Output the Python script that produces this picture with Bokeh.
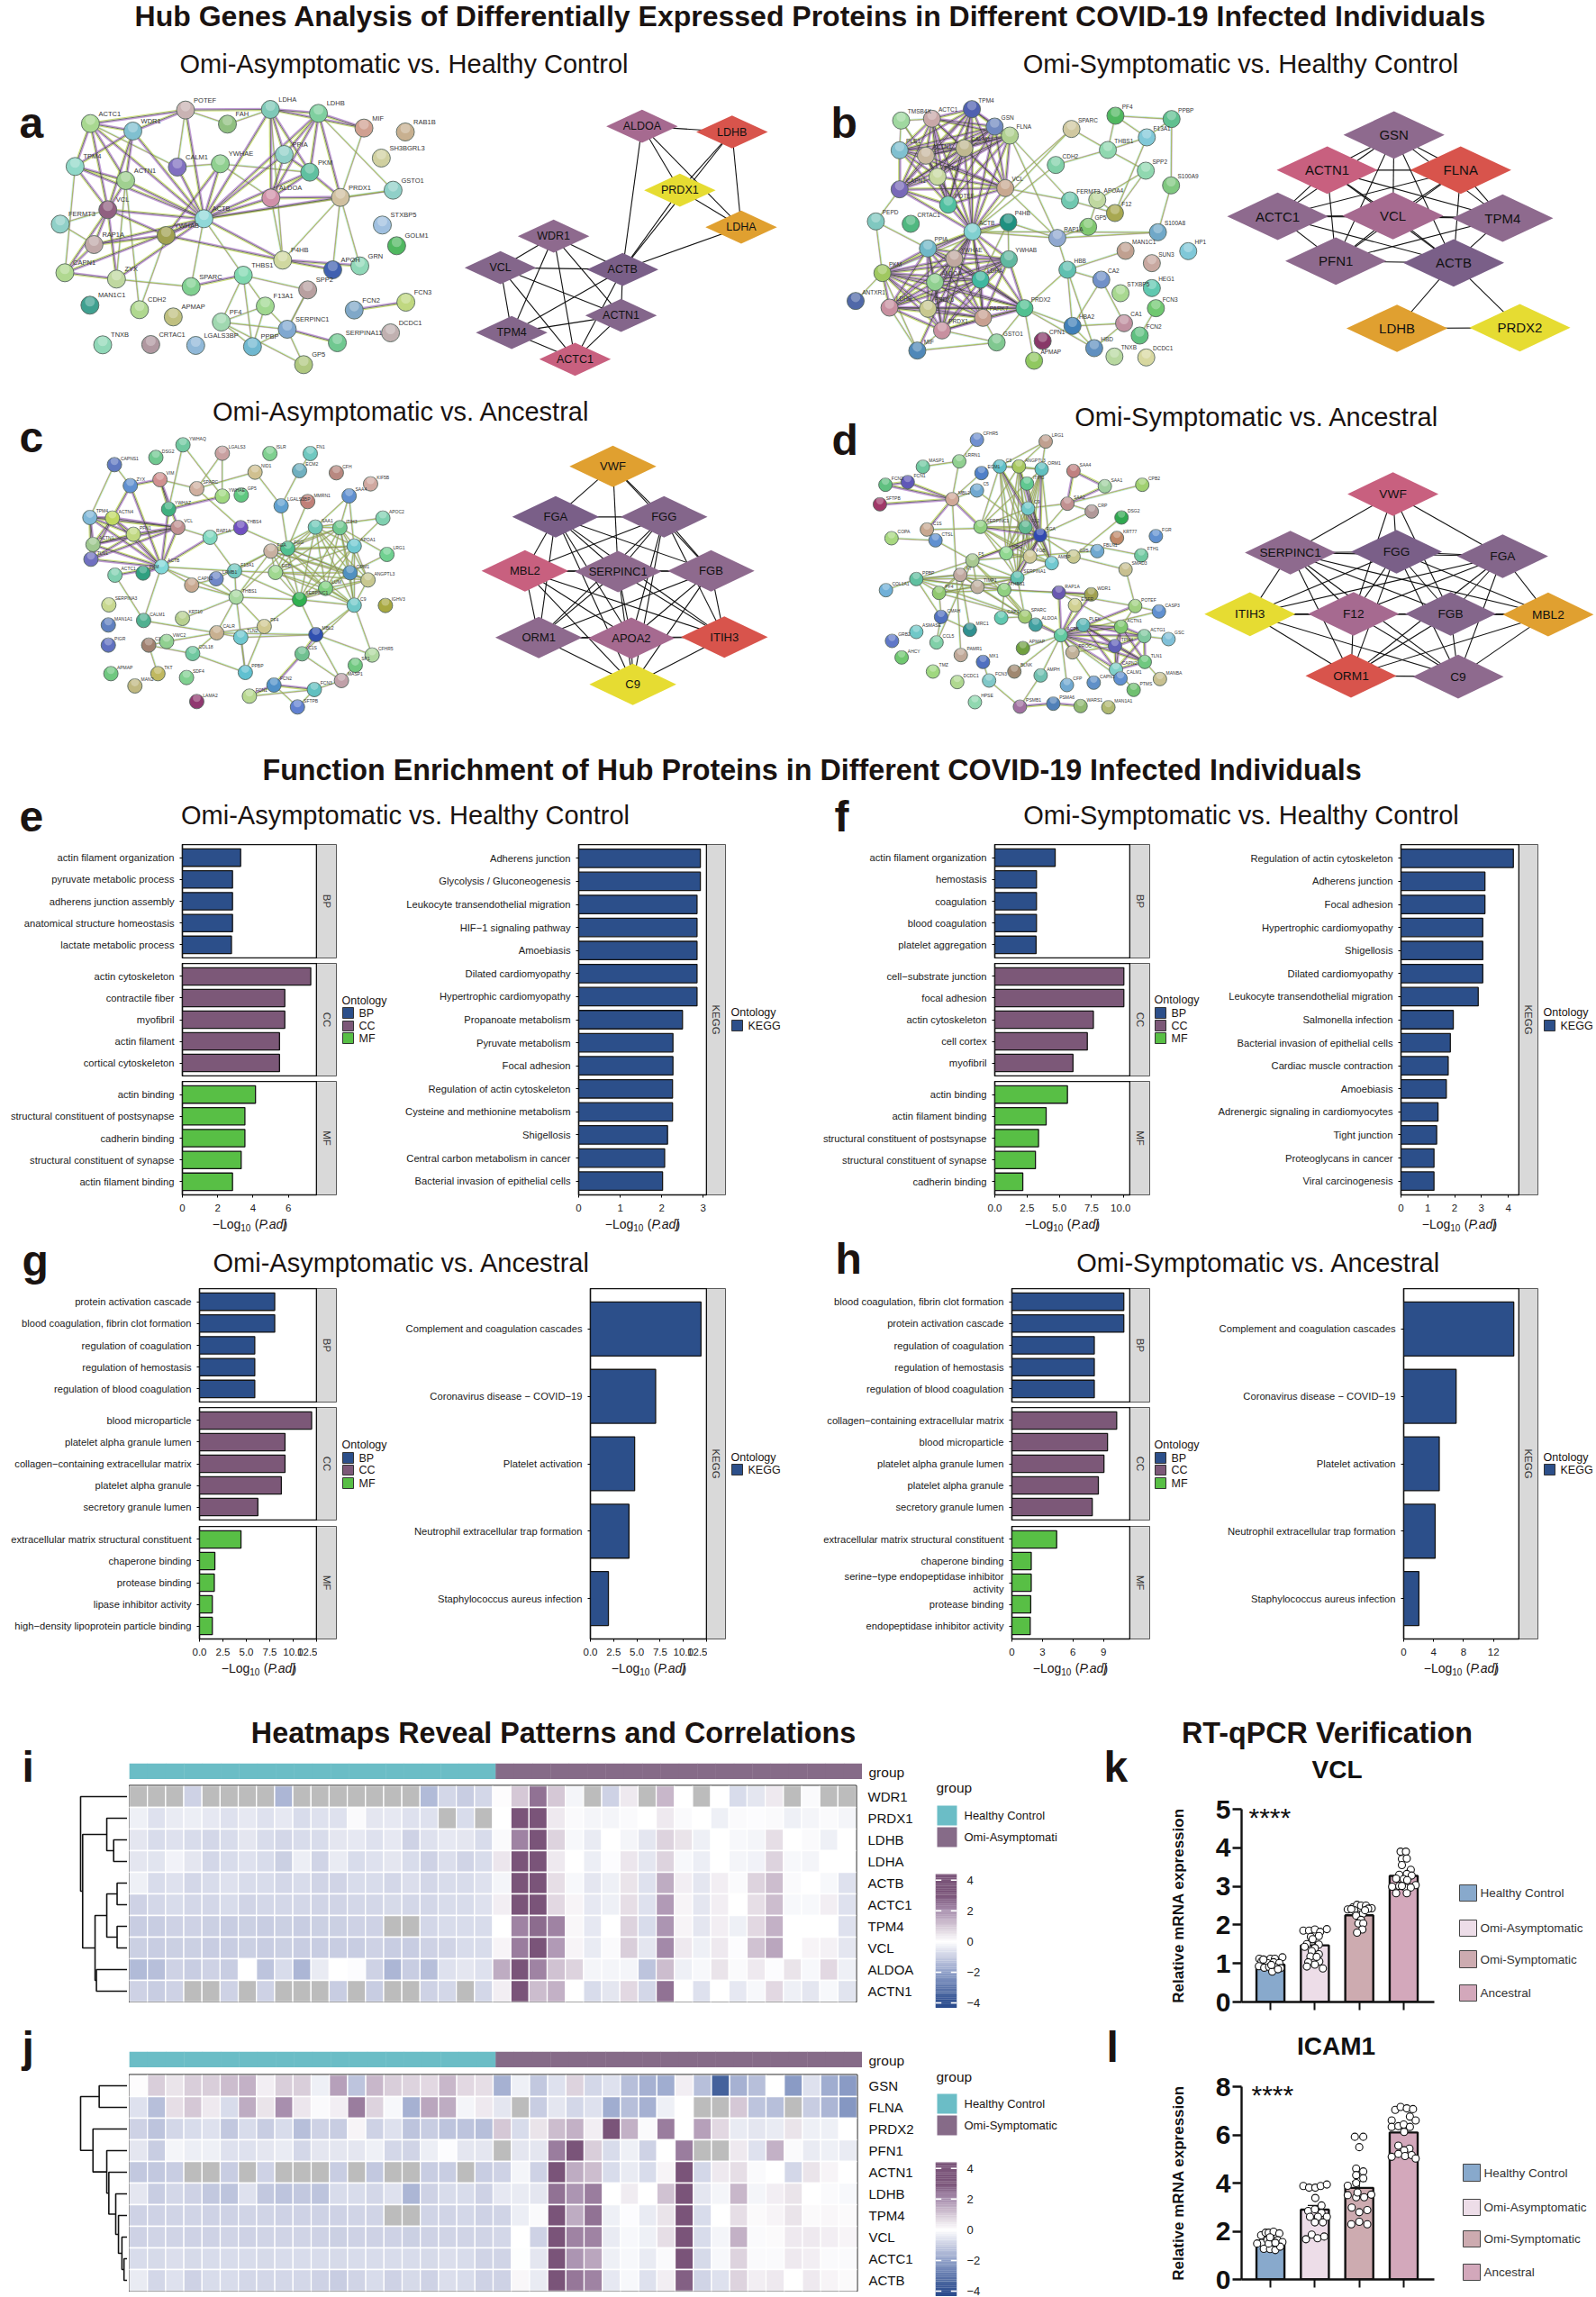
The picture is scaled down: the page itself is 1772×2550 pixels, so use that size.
from itertools import combinations
import math
import numpy as np
from bokeh.plotting import figure
from bokeh.layouts import column
from bokeh.models import Range1d, LinearAxis, FixedTicker, NumeralTickFormatter, Column
from bokeh.core.properties import value
from bokeh.embed import file_html
from bokeh.resources import INLINE

FONT = "Liberation Sans"
N = float("nan")

# ---------------------------------------------------------------- enrichment data
e_bp_terms = ["actin filament organization", "pyruvate metabolic process", "adherens junction assembly", "anatomical structure homeostasis", "lactate metabolic process"]
e_bp_vals = [3.3, 2.84, 2.84, 2.84, 2.78]
e_cc_terms = ["actin cytoskeleton", "contractile fiber", "myofibril", "actin filament", "cortical cytoskeleton"]
e_cc_vals = [7.27, 5.8, 5.8, 5.5, 5.5]
e_mf_terms = ["actin binding", "structural constituent of postsynapse", "cadherin binding", "structural constituent of synapse", "actin filament binding"]
e_mf_vals = [4.14, 3.54, 3.54, 3.33, 2.84]
e_kegg_terms = ["Adherens junction", "Glycolysis / Gluconeogenesis", "Leukocyte transendothelial migration", "HIF−1 signaling pathway", "Amoebiasis", "Dilated cardiomyopathy", "Hypertrophic cardiomyopathy", "Propanoate metabolism", "Pyruvate metabolism", "Focal adhesion", "Regulation of actin cytoskeleton", "Cysteine and methionine metabolism", "Shigellosis", "Central carbon metabolism in cancer", "Bacterial invasion of epithelial cells"]
e_kegg_vals = [2.93, 2.93, 2.85, 2.85, 2.85, 2.85, 2.85, 2.5, 2.27, 2.27, 2.26, 2.26, 2.14, 2.07, 2.02]

f_bp_terms = ["actin filament organization", "hemostasis", "coagulation", "blood coagulation", "platelet aggregation"]
f_bp_vals = [4.68, 3.23, 3.23, 3.23, 3.2]
f_cc_terms = ["cell−substrate junction", "focal adhesion", "actin cytoskeleton", "cell cortex", "myofibril"]
f_cc_vals = [10.0, 10.0, 7.64, 7.17, 6.06]
f_mf_terms = ["actin binding", "actin filament binding", "structural constituent of postsynapse", "structural constituent of synapse", "cadherin binding"]
f_mf_vals = [5.63, 3.98, 3.39, 3.15, 2.17]
f_kegg_terms = ["Regulation of actin cytoskeleton", "Adherens junction", "Focal adhesion", "Hypertrophic cardiomyopathy", "Shigellosis", "Dilated cardiomyopathy", "Leukocyte transendothelial migration", "Salmonella infection", "Bacterial invasion of epithelial cells", "Cardiac muscle contraction", "Amoebiasis", "Adrenergic signaling in cardiomyocytes", "Tight junction", "Proteoglycans in cancer", "Viral carcinogenesis"]
f_kegg_vals = [4.19, 3.13, 3.13, 3.05, 3.05, 3.05, 2.88, 1.95, 1.84, 1.76, 1.69, 1.38, 1.33, 1.23, 1.23]

g_bp_terms = ["protein activation cascade", "blood coagulation, fibrin clot formation", "regulation of coagulation", "regulation of hemostasis", "regulation of blood coagulation"]
g_bp_vals = [8.03, 8.03, 5.9, 5.9, 5.9]
g_cc_terms = ["blood microparticle", "platelet alpha granule lumen", "collagen−containing extracellular matrix", "platelet alpha granule", "secretory granule lumen"]
g_cc_vals = [11.97, 9.13, 9.13, 8.74, 6.23]
g_mf_terms = ["extracellular matrix structural constituent", "chaperone binding", "protease binding", "lipase inhibitor activity", "high−density lipoprotein particle binding"]
g_mf_vals = [4.43, 1.64, 1.58, 1.37, 1.37]
g_kegg_terms = ["Complement and coagulation cascades", "Coronavirus disease − COVID−19", "Platelet activation", "Neutrophil extracellular trap formation", "Staphylococcus aureus infection"]
g_kegg_vals = [11.9, 7.02, 4.76, 4.15, 1.94]

h_bp_terms = ["blood coagulation, fibrin clot formation", "protein activation cascade", "regulation of coagulation", "regulation of hemostasis", "regulation of blood coagulation"]
h_bp_vals = [11.0, 11.0, 8.1, 8.1, 8.1]
h_cc_terms = ["collagen−containing extracellular matrix", "blood microparticle", "platelet alpha granule lumen", "platelet alpha granule", "secretory granule lumen"]
h_cc_vals = [10.3, 9.4, 9.05, 8.5, 7.9]
h_mf_terms = ["extracellular matrix structural constituent", "chaperone binding", "serine−type endopeptidase inhibitor\nactivity", "protease binding", "endopeptidase inhibitor activity"]
h_mf_vals = [4.4, 1.9, 1.9, 1.85, 1.8]
h_kegg_terms = g_kegg_terms
h_kegg_vals = [14.7, 7.0, 4.75, 4.2, 2.03]

# ---------------------------------------------------------------- heatmap data
i_rows = ["WDR1", "PRDX1", "LDHB", "LDHA", "ACTB", "ACTC1", "TPM4", "VCL", "ALDOA", "ACTN1"]
i_values = [
 [N,N,N,-.9,N,N,N,N,-1.5,N,N,N,N,N,N,N,-1.4,-.8,-1,-.8,.05,1,2.5,1,-.2,N,-.9,.4,N,1.3,0,N,0,-.7,-.5,.4,N,-.1,N,N],
 [-.3,-.6,-.4,-.35,-.45,-.6,-.45,-.6,-.45,-.7,-.6,-.6,-.1,-.5,-.45,-.6,-.6,N,-.7,N,0,3,3,.4,-.1,-.2,-.2,-.1,0,.4,-.1,0,-.3,-.1,-.05,-.1,-.3,-.2,-.1,-.2],
 [-.5,-.7,-.6,-.7,-.8,-.7,-.5,-.7,-.8,-.7,-.7,-.5,-.45,-.6,-.45,-.9,-.6,-.45,-.5,-.7,-.1,2.2,3,.8,-.15,-.4,0,-.2,-.5,.8,.5,-.3,0,-.15,-.2,.6,0,-.1,-.3,0],
 [-.5,-.55,-.25,-.5,-.8,-.7,-.6,-.7,-.95,-.35,-.85,-.4,-.7,-.6,-.5,-.7,-.9,-.65,-.85,-.7,.45,3,3,.4,0,-.35,-.05,.45,-.5,.8,-.15,-.35,0,-.2,-.25,.8,-.15,-.2,0,0],
 [-.3,-.7,-.6,-.8,-.7,-.6,-.7,-.7,-.8,-.7,-.85,-.85,-.7,-.7,-.8,-.65,-.8,-.7,-.7,-.6,-.2,3,3,.6,-.15,-.5,-.3,.5,-.6,1.5,.3,-.5,.3,-.1,.8,1.2,-.1,0,-.15,-.6],
 [-.9,-.8,-.7,-.8,-.8,-.7,-.85,-.8,-.8,-.8,-.85,-.85,-.8,-.8,-.75,-.8,-.8,-.7,-.7,-.6,.3,3,3,.7,.2,-.45,-.3,.6,-.6,1.8,.2,-.5,.3,0,.6,1.2,-.15,-.15,.3,-.6],
 [-1,-1,-.9,-.9,-.95,-1,-.95,-1,-.95,-1,-.95,-.95,-.9,-.9,N,N,-.8,-.7,-.7,-.7,0,2.2,2.6,2.2,.15,-.45,0,.8,-.7,1.9,.2,-.5,.3,-.3,.7,1.4,0,0,0,-.6],
 [-.95,-1,-.95,-.95,-1,-1,-.95,-1,-.95,-1,-1,-1,-1,-.9,-1,-1,-.9,-.85,-.7,-.7,.2,2.3,3,1.8,.2,-.4,-.1,.9,-.5,2.1,.4,-.3,.4,-.05,1.1,1.6,0,.2,.25,-.5],
 [-1.4,-1.3,-.9,-1,-.9,-1,0,-1.2,-.7,-1.5,-.4,0,-.05,-.9,-1.5,-1,-1.3,-.6,-.5,-.6,1.5,3,2.2,1.1,.8,-.2,-.2,-.2,-1.2,1.2,-.3,-.15,.5,-.1,.4,-.05,.5,-.15,.7,-.3],
 [-.9,-1,-.9,N,N,-.9,N,-.9,N,N,N,-1,N,-1,N,N,-.9,-.8,N,-.8,.3,3,1.2,1.4,0,-.7,-.5,.7,-.8,2.5,0,-.6,0,-.45,-.15,.7,-.3,-.5,-.15,-.55],
]
j_rows = ["GSN", "FLNA", "PRDX2", "PFN1", "ACTN1", "LDHB", "TPM4", "VCL", "ACTC1", "ACTB"]
j_values = [
 [.05,.9,.5,.9,.9,1.2,1.4,.3,.9,.9,-.3,1.7,-1.2,1.3,.9,.8,.7,1.3,.7,.6,-1.6,-.3,-1.1,-.6,.8,-.8,-.6,-1.3,-1.6,-1.7,.3,-1.3,-3.5,-1.6,-1.3,0,-2.1,-.6,-1.7,-2.1],
 [-.6,-1.3,.6,1,.4,-.7,1.5,.5,2,.45,-.1,.3,2.3,.8,-.15,-1.6,1.6,1.5,-.2,.4,-.5,N,-1,-.5,-.8,-.6,-1.7,-1.3,-1.6,-.3,0,N,N,1,-1.2,-1.3,N,-1,-1.5,-2.2],
 [-.9,-1.2,-.8,-.7,-.6,-1.1,-.7,-1,-.7,-1.3,-.9,-1,.2,-.9,-.6,-1.2,-1,-1.2,-1.2,-1.3,1,-.7,.5,1.2,1.4,.3,3,1.4,-.1,2.3,0,1.7,.7,-.4,-.5,-.4,.5,-.3,-.3,0],
 [-.5,-1,-.2,-.35,-.3,-.6,-.6,-.5,-.4,-.8,-.5,-.5,-.5,-.3,-.8,-.85,-.35,-.05,-.5,-.5,N,-.5,-.5,2.3,3,.9,-.7,-.3,-.9,0,2.3,N,N,.4,-.6,1.4,-.1,-.4,-.3,-.4],
 [-1.1,-1.1,-1,N,N,-1,N,-.9,N,N,N,-1,N,-1.1,N,N,-1,-1,N,-1,-.9,-.2,-.9,3,1.5,1.2,-.7,-.4,-.7,.2,3,-.8,.4,.6,-.1,0,-.8,.5,.2,0],
 [-.5,-1,-.8,-.9,-1.1,-1.2,-.6,-1.1,-1.2,-1.1,-1.2,-.7,-.7,-.8,-.6,-1.5,-.9,-.7,-.7,-.9,-.45,-.4,-.5,2.5,1.9,2.3,0,.35,0,1.1,3,-.5,-.2,1.3,-.2,.3,.5,0,-.1,-.15],
 [-.9,-.9,-.85,-.85,-.9,-.9,-.85,-.85,-.9,-.9,-.9,-.9,-.85,-.85,N,N,-.85,-.85,-.8,-.9,-.85,-.35,-.1,3,1.5,2.5,-.3,-.05,-.4,.5,3,-.7,0,.6,.1,.2,.5,.1,.15,.1],
 [-.9,-.85,-.85,-.9,-.9,-.85,-.9,-.85,-.85,-.85,-.9,-.95,-.9,-.9,-.9,-.95,-.9,-.85,-.85,-.85,-.8,0,-.9,3,2.2,2.2,-.4,-.15,-.3,.6,3,-.7,-.2,1.4,-.1,.1,.4,.4,.3,.2],
 [-.7,-.75,-.65,-.75,-.7,-.7,-.7,-.75,-.7,-.7,-.7,-.75,-.7,-.7,-.7,-.7,-.75,-.65,-.7,-.85,-.85,-.03,-.5,3,1.9,1.6,-.3,-.15,-.4,-.1,3,-.75,-.15,.8,-.1,-.1,.4,.3,-.1,-.1],
 [-.4,-.8,-.6,-.9,-.7,-.7,-.8,-.8,-.8,-.8,-.9,-1,-.85,-.7,-.9,-.75,-.9,-.65,-.7,-.9,-.9,.15,-.4,3,2.4,2.2,-.45,-.15,-.6,.3,2.8,-.85,-.6,.8,.3,.4,0,.4,.2,.1],
]
heat_groups_i = ["Healthy Control"] * 20 + ["Omi-Asymptomatic"] * 20
heat_groups_j = ["Healthy Control"] * 20 + ["Omi-Symptomatic"] * 20
tree_i = (68, 0, (65, (30, 1, (20, 2, 3)), (47, (30, (15, 4, 5), (15, 6, 7)), (45, 8, 9))))
tree_j = (68, (41, 0, 1), (50, 2, (30, 3, (27, 4, (17, 5, (13, 6, (8, 7, (5, 8, 9))))))))

# ---------------------------------------------------------------- qPCR data
q_groups = ["Healthy Control", "Omi-Asymptomatic", "Omi-Symptomatic", "Ancestral"]
q_colors = ["#88a9cc", "#eddde8", "#cdabb0", "#d3a8bb"]
vcl_means = [0.97, 1.47, 2.25, 3.27]
vcl_sem = [0.03, 0.07, 0.05, 0.07]
vcl_off = [
 [-.25,-.11,0,.1,.27,-.2,-.07,.07,.2,-.26,-.14,-.03,.11,.23,.04,.17,-.16,.02],
 [-.26,-.13,0,.12,.27,-.09,.09,-.18,-.05,.09,-.23,0,-.07,.09,-.1,-.15,.1,-.18,0,.18,.04],
 [-.26,-.14,-.05,.04,.15,.28,.2,-.11,0,.08,-.07,.04,-.02,.09,.07,-.05,-.18,.13],
 [-.07,.05,-.04,.07,-.04,.16,.07,-.1,.18,0,-.17,.08,.27,-.26,-.1,.03,.16,-.17,.07,-.04],
]
vcl_pts = [
 [1.12,1.08,1.12,1.12,1.16,1.05,1.01,1.03,1.01,.93,.89,.91,.9,.88,.79,.85,1.1,.96],
 [1.85,1.85,1.88,1.82,1.89,1.69,1.71,1.5,1.63,1.49,1.43,1.4,1.32,1.24,1.18,1.03,1.05,.92,.97,.87,1.17],
 [2.4,2.46,2.52,2.5,2.5,2.43,2.42,2.38,2.26,2.29,2.24,2.13,2.04,2.04,1.88,1.8,2.41,2.38],
 [3.9,3.9,3.71,3.72,3.55,3.43,3.32,3.3,3.28,3.19,3.2,3.16,3.03,2.99,3.01,2.97,2.97,2.82,2.82,3.01],
]
icam_means = [1.5, 2.9, 3.8, 6.1]
icam_sem = [0.07, 0.17, 0.27, 0.16]
icam_off = [
 [-.21,-.11,-.04,.07,.2,-.2,-.3,-.07,.04,.16,.27,-.15,-.01,.11,.22,-.04,.11,-.01],
 [-.26,-.13,.01,.13,.27,.01,.15,-.15,0,.15,-.11,.07,.27,0,.18,-.2,-.07,.06,.21],
 [-.1,.09,0,-.07,.09,-.07,.09,-.26,-.07,-.26,-.07,.11,.27,-.17,0,.18,-.18,0,.18,-.04],
 [-.19,-.07,.07,.21,.14,-.27,.27,-.27,-.12,0,.14,.01,-.12,.13,.01,-.12,-.27,.03,.18,.27],
]
icam_pts = [
 [1.83,1.94,1.94,1.98,1.91,1.52,1.49,1.64,1.64,1.63,1.55,1.27,1.26,1.22,1.36,1.49,1.52,1.75],
 [3.88,3.81,3.81,3.88,3.94,3.38,3.07,2.84,2.91,2.76,2.6,2.6,2.6,2.37,2.37,1.67,1.86,1.71,1.78],
 [5.92,5.92,5.49,4.6,4.48,4.33,4.2,3.89,4.0,3.5,3.41,3.41,3.52,2.98,2.79,2.88,2.29,2.39,2.29,3.61],
 [7.04,7.16,7.1,7.07,6.76,6.6,6.6,6.33,6.36,6.43,6.33,6.12,5.55,5.43,5.36,5.21,5.09,5.12,5.16,5.02],
]

# ---------------------------------------------------------------- PPI networks
net_a_nodes = [("POTEF",362,365,"#c9b3b3"),("LDHA",528,363,"#7fc9b8"),("LDHB",622,376,"#7fcf9f"),("FAH",444,412,"#90c080"),("MIF",711,425,"#d0a090"),("RAB1B",792,438,"#c8b090"),("ACTC1",176,410,"#a8d890"),("WDR1",259,435,"#80c0d0"),("SH3BGRL3",745,525,"#d0d0a0"),("PPIA",555,513,"#90d0c8"),("YWHAE",430,544,"#90d090"),("CALM1",346,555,"#8070c0"),("PKM",605,572,"#60c0a0"),("TPM4",146,553,"#90d8c8"),("ACTN1",245,600,"#a0d090"),("GSTO1",768,632,"#90d0c8"),("ALDOA",529,658,"#d090a8"),("PRDX1",665,656,"#d0c0a0"),("VCL",210,697,"#906080"),("ACTB",398,727,"#90d8d8"),("FERMT3",117,745,"#90d0c8"),("STXBP5",747,748,"#a0c0e0"),("YWHAB",324,783,"#a0a050"),("RAP1A",183,813,"#c0a8a8"),("GOLM1",775,817,"#50b860"),("GRN",703,884,"#90d8b8"),("APOH",650,897,"#4060b0"),("P4HB",552,865,"#d0d8a0"),("CAPN1",126,907,"#b0d890"),("ZYX",227,928,"#c0d8a0"),("THBS1",475,915,"#80d8b0"),("SPARC",373,953,"#80d090"),("SPP2",601,964,"#b8a0a0"),("MAN1C1",175,1015,"#40a090"),("CDH2",272,1030,"#b0d890"),("F13A1",518,1018,"#a0d890"),("APMAP",338,1054,"#c0c080"),("FCN2",692,1031,"#80a8c8"),("FCN3",793,1005,"#c0d880"),("PF4",432,1071,"#a0d8b0"),("SERPINC1",561,1095,"#80a8d0"),("DCDC1",763,1107,"#c0b0b0"),("SERPINA11",659,1140,"#70c890"),("TNXB",200,1147,"#90d8b8"),("CRTAC1",294,1146,"#b098a0"),("LGALS3BP",382,1149,"#90b8d8"),("PPBP",493,1153,"#70b8d0"),("GP5",593,1213,"#b0c880")]
net_b_nodes = [("TMSB4X",196,130,"#a0d8a0"),("ACTC1",257,124,"#c8a8a8"),("TPM4",336,92,"#5060b0"),("GSN",381,150,"#7088c0"),("FLNA",411,180,"#b0d090"),("PLS1",193,229,"#80c0d0"),("ACTN1",245,247,"#c8b8a0"),("CALM1",321,222,"#c0b890"),("PFN1",268,317,"#c8d8a0"),("SPARC",533,158,"#d0c8a0"),("THBS1",605,228,"#90d8b0"),("CDH2",502,278,"#80d0a8"),("F13A1",682,186,"#80c8d8"),("PF4",620,114,"#50b860"),("PPBP",731,125,"#60c090"),("SPP2",680,297,"#90d8b0"),("S100A9",730,346,"#80c880"),("CAPN1",193,359,"#7868b8"),("VCL",402,355,"#c8a890"),("POTEF",289,410,"#50c0a0"),("FERMT3",530,396,"#70c8b0"),("APOA4",584,394,"#c0d8a0"),("F12",619,438,"#a8a850"),("PEPD",146,466,"#80c8c0"),("CRTAC1",215,474,"#50b880"),("ACTB",337,500,"#80d0d0"),("P4HB",408,469,"#209080"),("GP5",566,484,"#80c870"),("S100A8",704,502,"#70a8c8"),("RAP1A",505,521,"#90a8d0"),("PPIA",249,556,"#70b8c8"),("MAN1C1",640,564,"#c0a090"),("YWHAE",301,590,"#c0a8a0"),("YWHAB",409,592,"#60b8a0"),("HP1",764,565,"#80c8d8"),("SUN3",692,605,"#c8a8a0"),("HBB",525,627,"#60c0b0"),("CA2",592,660,"#7090c8"),("PKM",159,638,"#a0c860"),("ALDOA",263,668,"#90d090"),("LDHA",353,660,"#40b8a0"),("STXBP5",630,705,"#a8d890"),("HEG1",692,688,"#60c8b0"),("ANTXR1",106,731,"#5068a8"),("LDHB",173,753,"#c890a0"),("PRDX6",249,757,"#c8c890"),("PARK7",358,787,"#c8a090"),("PRDX2",440,755,"#50c090"),("FCN3",700,755,"#70c870"),("HBA2",535,814,"#4080b8"),("CA1",637,805,"#c090a0"),("PRDX1",277,829,"#c890a0"),("FCN2",668,846,"#60c080"),("GSTO1",385,869,"#80c890"),("CPN1",476,864,"#883868"),("HBD",578,888,"#6090c0"),("MIF",228,896,"#5088b8"),("APMAP",459,930,"#90c860"),("TNXB",618,916,"#b8d8a0"),("DCDC1",681,919,"#d8d8a0")]
net_c_nodes = [("YWHAQ",357,190,"#70c8a0"),("LGALS3",434,218,"#c8a0a0"),("DSG2",304,232,"#70c890"),("ISLR",527,219,"#80d090"),("FN1",606,219,"#70c8c0"),("CAPNS1",223,256,"#6078c0"),("ECM2",585,276,"#70b0c0"),("NID1",498,281,"#d0c090"),("CFH",657,283,"#b88880"),("KIF5B",724,320,"#d0a8a0"),("ZYX",254,326,"#6090d0"),("VIM",312,306,"#d09090"),("SPARC",384,336,"#d0b0a0"),("YWHAE",434,361,"#a0d880"),("GP5",471,357,"#60c880"),("LGALS3BP",549,393,"#60a0d0"),("MMRN1",601,379,"#c08078"),("SAA4",682,360,"#6090d0"),("YWHAZ",329,404,"#40b080"),("TPM4",175,432,"#80b8d8"),("ACTN4",219,434,"#c0d860"),("APOC2",748,434,"#80d0b0"),("VCL",347,465,"#c09090"),("THBS4",470,466,"#7050c0"),("SAA1",616,464,"#70c8b8"),("ITIH3",664,466,"#70c890"),("PFN1",260,488,"#c0d880"),("RAP1A",410,498,"#80d8c0"),("ACTN1",181,522,"#a0c890"),("APOA1",692,527,"#70c8d0"),("FGA",529,544,"#c8b0a0"),("FGG",562,535,"#50c090"),("LRG1",756,555,"#70d090"),("TLN1",177,571,"#7070c0"),("ACTC1",224,624,"#80d0b0"),("ACTB",315,596,"#80d8d8"),("PKM",279,617,"#30a080"),("F13A1",458,610,"#70c8c0"),("FGB",538,615,"#a0d890"),("ORM1",684,616,"#5090c0"),("ANGPTL3",719,640,"#c8c890"),("LAMB1",422,636,"#7088c8"),("CAPN2",374,657,"#c8a890"),("LUM",636,668,"#80d080"),("THBS1",461,697,"#a8d8a0"),("SERPINC1",585,705,"#30b050"),("C9",692,724,"#70c8c8"),("SERPINA3",212,723,"#c8d890"),("IGHV3",753,725,"#a8a840"),("MAN1A1",211,790,"#6080c0"),("CALM1",280,775,"#50b090"),("KRT10",356,768,"#b8d090"),("PF4",516,795,"#d0c890"),("CALR",423,816,"#c8b090"),("MBL2",617,822,"#3050b0"),("TLN2",470,831,"#70c8d0"),("PIGR",211,857,"#6070c0"),("C3",290,857,"#a08070"),("VWC2",325,845,"#90d090"),("COL18",376,885,"#70c8a0"),("C1S",590,886,"#70c090"),("CFHR5",727,890,"#b0d8a0"),("SP1",694,924,"#70c880"),("APMAP",216,952,"#70c880"),("TKT",308,952,"#c0b860"),("PPBP",479,948,"#60c0d0"),("SDF4",364,965,"#80d090"),("MAN2",263,993,"#c0b880"),("MASP1",667,975,"#c0a0a8"),("FCN2",535,990,"#5090c8"),("FCN3",614,1005,"#60c0c0"),("FCN1",487,1027,"#b8d890"),("LAMA2",384,1045,"#903870"),("SFTPB",581,1063,"#6080d0")]
net_d_nodes = [("CFHR5",346,173,"#7090d0"),("LRG1",482,179,"#c0a090"),("LRRN1",311,245,"#90d090"),("MASP1",239,263,"#70c8a0"),("ECM1",355,284,"#5080c8"),("C3",391,262,"#60c0c8"),("ANGPTL3",429,262,"#a8c860"),("ORM1",474,271,"#60c0c0"),("SAA4",537,277,"#c08080"),("FCN2",165,323,"#60c080"),("FCN1",209,314,"#6058b8"),("C5",346,342,"#70a8d0"),("ITIH3",445,319,"#60c890"),("SAA1",599,328,"#a0d0a0"),("CPB2",673,323,"#a0d070"),("SFTPB",154,388,"#a03868"),("MBL2",297,371,"#d0a898"),("SAA2",525,386,"#c09090"),("CRP",573,412,"#b09898"),("C9",447,402,"#70c8c8"),("DSG2",632,432,"#30a850"),("C1S",247,472,"#c8a890"),("SERPINC1",353,463,"#90d080"),("F12",442,464,"#60b890"),("FGA",471,491,"#3048b0"),("KRT77",623,500,"#c08868"),("FGR",700,494,"#6090d0"),("COPA",177,501,"#a8d880"),("CTSL",264,508,"#6090d0"),("FBLN1",584,544,"#70a8d0"),("HRG",404,551,"#90d890"),("FGB",451,562,"#d0c898"),("FTH1",671,558,"#70c8a0"),("GP5",537,562,"#c8c890"),("F5",337,575,"#a8c890"),("AMBP",494,584,"#70c8d0"),("SMAD3",640,605,"#c8c090"),("PPBP",226,637,"#60c0a0"),("F7",313,623,"#c0a8a0"),("SERPINA1",426,633,"#60c0b0"),("COL1A1",166,674,"#70b0d8"),("PF4",271,683,"#90c870"),("TIMP1",347,663,"#c0b0a0"),("THBS1",400,673,"#90d080"),("RAP1A",508,682,"#6858b0"),("WDR1",572,688,"#a0a050"),("POTEF",659,727,"#a0d080"),("EGFR",540,724,"#d0d090"),("CASP3",706,745,"#6090d0"),("CMAH",275,763,"#5070c0"),("CAP1",394,766,"#60c8b0"),("SPARC",441,762,"#a0c870"),("ALDOA",462,789,"#40a0a0"),("PLEK",556,790,"#60b8b8"),("MRC1",332,806,"#309090"),("ASMASE",226,813,"#70c8c8"),("ACTB",512,824,"#60c8a0"),("ACTN1",631,796,"#80c870"),("ACTG1",677,827,"#80c8a0"),("GSC",725,837,"#80c0d8"),("GRB2",178,843,"#6078c8"),("CCL5",266,848,"#80d0a8"),("TPM4",619,860,"#6060b8"),("APMAP",437,867,"#70a040"),("PROC",535,881,"#c0b098"),("AHCY",197,898,"#70c870"),("PAMR1",314,890,"#c0a898"),("TLN1",678,913,"#70c880"),("MX1",358,913,"#5070c0"),("TMZ",259,945,"#a0d880"),("CAPN2",621,938,"#80d0c8"),("CALM1",630,968,"#6090d0"),("BLNK",420,945,"#a08870"),("AMPH",472,958,"#70c0b0"),("CFP",524,990,"#70a8d0"),("CAPN1",577,982,"#6090c8"),("DCDC1",307,980,"#b0d890"),("MANBA",708,970,"#c8c090"),("FCN3",370,975,"#80c8c8"),("PTMS",656,1006,"#70c070"),("HPSE",342,1047,"#90d8b0"),("PSMB1",431,1062,"#a070a0"),("PSMA6",497,1052,"#5080b8"),("WARS1",551,1060,"#90b870"),("MAN1A1",606,1064,"#b0b870")]

def pairs(names):
    return list(combinations(names, 2))
def star(hub, names):
    return [(hub, n) for n in names]
def chain(text):
    return [tuple(s.split("-")) for s in text.split()]

net_a_strong = star("ACTB", "ACTC1 WDR1 TPM4 ACTN1 VCL CALM1 YWHAE LDHA LDHB PPIA PKM ALDOA PRDX1 YWHAB RAP1A CAPN1 ZYX P4HB".split()) + pairs("ACTC1 TPM4 WDR1 ACTN1 VCL".split()) + pairs("LDHA LDHB PPIA PKM ALDOA".split()) + chain("POTEF-LDHA POTEF-WDR1 POTEF-ACTC1 POTEF-ACTB LDHA-MIF LDHB-MIF LDHB-PRDX1 PKM-PRDX1 ALDOA-PRDX1 VCL-YWHAB VCL-RAP1A VCL-ZYX VCL-CAPN1 RAP1A-YWHAB RAP1A-CAPN1 CAPN1-ZYX YWHAB-P4HB P4HB-APOH SPARC-THBS1 YWHAE-YWHAB FCN2-FCN3 SERPINC1-SERPINA11 P4HB-GRN")
net_a_light = chain("POTEF-CALM1 FAH-LDHA FAH-POTEF LDHB-GSTO1 PRDX1-GSTO1 PRDX1-MIF YWHAE-PKM YWHAE-CALM1 YWHAE-ALDOA ACTC1-CALM1 VCL-FERMT3 RAP1A-FERMT3 CAPN1-TPM4 ACTN1-ZYX ZYX-SPARC ACTN1-CDH2 P4HB-PRDX1 P4HB-ALDOA P4HB-LDHA GRN-PRDX1 THBS1-F13A1 THBS1-PF4 THBS1-PPBP THBS1-SPP2 F13A1-PF4 F13A1-PPBP F13A1-SERPINC1 PF4-PPBP PF4-SERPINC1 PPBP-SERPINC1 SERPINC1-SPP2 SERPINC1-GP5 CDH2-YWHAB ACTB-GSTO1 ACTB-THBS1 ACTB-SPARC PRDX1-APOH SPP2-SERPINC1 PF4-GP5")
net_b_strong = pairs("ACTC1 TPM4 GSN FLNA PLS1 ACTN1 CALM1 PFN1 VCL POTEF CAPN1".split()) + star("ACTB", "TPM4 GSN FLNA ACTC1 ACTN1 CALM1 PFN1 VCL POTEF CAPN1 PPIA YWHAE YWHAB PKM ALDOA LDHA LDHB PRDX6 PRDX1 PRDX2 MIF PARK7 P4HB".split()) + pairs("PKM ALDOA LDHA LDHB PRDX6 PARK7 PRDX2 PRDX1 YWHAE YWHAB PPIA".split())
net_b_light = chain("FLNA-FERMT3 FLNA-RAP1A VCL-FERMT3 VCL-RAP1A ACTB-RAP1A ACTB-S100A8 RAP1A-S100A8 S100A8-S100A9 S100A9-PPBP PF4-PPBP PF4-THBS1 PPBP-F13A1 PF4-F13A1 THBS1-F13A1 THBS1-SPARC THBS1-CDH2 CDH2-ACTB SPARC-ACTB SPARC-VCL SPP2-THBS1 SPP2-APOA4 F12-APOA4 F12-SPP2 F12-F13A1 FERMT3-F12 GP5-RAP1A GP5-APOA4 RAP1A-HBB HBB-CA2 HBB-HBA2 HBB-HBD HBA2-HBD HBA2-CA1 HBA2-CA2 CA1-CA2 CA1-HBD HBB-PRDX2 HBB-MAN1C1 PRDX2-HBA2 PRDX2-HBD PRDX2-GSTO1 PRDX2-APMAP PEPD-PPIA PEPD-CAPN1 PEPD-PKM PKM-ANTXR1 MIF-PRDX1 MIF-LDHB MIF-PKM MIF-GSTO1 GSTO1-PRDX1 GSTO1-PARK7 P4HB-YWHAB P4HB-RAP1A P4HB-PPIA P4HB-LDHA P4HB-PKM FCN2-FCN3 TMSB4X-ACTC1 TMSB4X-ACTN1 TMSB4X-PLS1 TMSB4X-PFN1")
net_c_strong = star("ACTB", "TPM4 ACTN4 PFN1 VCL ACTN1 ACTC1 TLN1 RAP1A ZYX YWHAZ PKM".split()) + pairs("TPM4 ACTN4 PFN1 VCL ACTN1 TLN1".split()) + chain("ZYX-VIM VIM-YWHAZ ZYX-ACTN4 VIM-VCL YWHAE-YWHAZ MBL2-C1S FCN2-FCN3 FCN1-FCN2 C1S-FCN2")
net_c_light = pairs("FGA FGG FGB SERPINC1 ORM1 ANGPTL3 C9 APOA1 LUM SAA1 ITIH3".split()) + chain("THBS4-FGG THBS4-RAP1A THBS1-FGG THBS1-FGA THBS1-F13A1 THBS1-CAPN2 THBS1-LAMB1 THBS1-SERPINC1 THBS1-CALR F13A1-FGB F13A1-FGA F13A1-SERPINC1 LAMB1-FGA LAMB1-CAPN2 PF4-SERPINC1 PF4-THBS1 PF4-CALR CALR-MBL2 CALR-TLN2 TLN2-MBL2 TLN2-PPBP PPBP-THBS1 MBL2-SERPINC1 MBL2-C9 MBL2-MASP1 C1S-C9 C1S-MASP1 FCN3-MASP1 CFHR5-C9 CFHR5-MBL2 SP1-MASP1 APOC2-APOA1 APOC2-SAA1 SAA4-SAA1 SAA4-ITIH3 SAA4-APOA1 LRG1-ITIH3 LRG1-ORM1 LGALS3BP-FGG LGALS3BP-NID1 NID1-SPARC ECM2-LGALS3BP SPARC-VIM SPARC-THBS4 LGALS3-SPARC LGALS3-YWHAE YWHAQ-YWHAZ YWHAQ-YWHAE CAPNS1-ZYX CAPNS1-TPM4 VCL-RAP1A CALM1-ACTC1 CALM1-CALR C3-COL18 C3-TKT C3-VWC2 VWC2-CALR COL18-PPBP COL18-CALR KRT10-THBS1 FN1-ECM2 MMRN1-FGG ACTB-F13A1 ACTB-THBS1 ACTB-CALM1 RAP1A-F13A1 CAPN2-ACTB FCN1-FCN3 SFTPB-FCN2 SFTPB-FCN3 PF4-PPBP")
net_d_strong = pairs("ACTB ACTN1 ACTG1 TPM4 TLN1 CAPN2 PLEK".split()) + star("FGA", "C3 ANGPTL3 ORM1 ITIH3 C9 F12 SERPINC1 FGB HRG AMBP SERPINA1 THBS1 F5".split()) + chain("MBL2-FCN2 MBL2-FCN1 MBL2-C1S MBL2-SFTPB FCN1-FCN2 C1S-CTSL SERPINC1-MBL2 RAP1A-WDR1 RAP1A-ACTB WDR1-ACTB ACTB-POTEF ACTB-EGFR ACTB-SPARC ACTB-PROC SAA1-SAA4 SAA2-SAA4 SAA1-SAA2 PSMB1-PSMA6 PSMA6-WARS1")
net_d_light = pairs("C3 ANGPTL3 ORM1 C9 F12 SERPINC1 FGB HRG AMBP SERPINA1".split()) + pairs("F5 F7 TIMP1 THBS1 PF4 PPBP SERPINA1 SPARC".split()) + chain("LRG1-ORM1 LRG1-ANGPTL3 LRG1-C3 LRRN1-MASP1 LRRN1-MBL2 CFHR5-LRRN1 ECM1-MBL2 C5-MBL2 C5-F12 SAA2-FGA SAA2-C9 CRP-SAA2 CRP-FGA CPB2-SAA2 DSG2-GP5 GP5-FGA GP5-SMAD3 F5-FGA COPA-CTSL CTSL-F5 C1S-F12 PPBP-COL1A1 PPBP-F7 PPBP-CMAH CMAH-PF4 CMAH-MRC1 CMAH-CCL5 CCL5-F5 PAMR1-MBL2 RAP1A-THBS1 RAP1A-POTEF WDR1-THBS1 POTEF-SMAD3 CASP3-ACTB POTEF-CASP3 ALDOA-ACTB PROC-TPM4 APMAP-ACTB BLNK-ACTB AMPH-PSMB1 AMPH-ACTB CFP-ACTB CAPN1-ACTB CALM1-CAPN2 CALM1-ACTB MANBA-TLN1 PTMS-CAPN2 FCN3-PSMB1 MX1-FCN3 THBS1-ALDOA CAP1-THBS1 CAP1-SPARC MRC1-F7 ACTN1-POTEF ACTN1-RAP1A ACTG1-GSC FBLN1-F5 FTH1-FGA")

# ---------------------------------------------------------------- hub-gene diamonds
PUR1, PUR2, PUR3, PUR4 = "#7a5f88", "#84668b", "#8e6a8e", "#a66a90"
RED, ORA, YEL, PIN = "#d8544c", "#e0a030", "#e6dc32", "#c8607f"
hub_a = [("ALDOA",1255,419,PUR4),("LDHB",1431,438,RED),("PRDX1",1329,632,YEL),("LDHA",1449,755,ORA),("WDR1",1082,785,PUR3),("VCL",978,890,PUR2),("ACTB",1217,896,PUR1),("ACTN1",1214,1049,PUR2),("TPM4",1000,1106,PUR2),("ACTC1",1124,1195,PIN)]
hub_a_edges = chain("ALDOA-LDHB ALDOA-ACTB ALDOA-PRDX1 ALDOA-LDHA LDHB-PRDX1 LDHB-ACTB LDHB-LDHA PRDX1-LDHA PRDX1-ACTB LDHA-ACTB WDR1-VCL WDR1-ACTB WDR1-ACTN1 WDR1-TPM4 WDR1-ACTC1 VCL-ACTB VCL-ACTN1 VCL-TPM4 VCL-ACTC1 ACTB-ACTN1 ACTB-TPM4 ACTB-ACTC1 ACTN1-TPM4 ACTN1-ACTC1 TPM4-ACTC1")
hub_b = [("GSN",1171,178,PUR3),("ACTN1",1039,295,PIN),("FLNA",1303,295,RED),("ACTC1",941,449,PUR3),("VCL",1169,447,PUR4),("TPM4",1386,455,PUR3),("PFN1",1056,598,PUR3),("ACTB",1289,604,PUR1),("LDHB",1177,822,ORA),("PRDX2",1420,820,YEL)]
hub_b_edges = pairs("GSN ACTN1 FLNA ACTC1 VCL TPM4 PFN1 ACTB".split()) + chain("ACTB-LDHB ACTB-PRDX2 LDHB-PRDX2")
hub_c = [("VWF",1198,262,ORA),("FGA",1086,430,PUR1),("FGG",1298,430,PUR2),("MBL2",1026,610,PIN),("SERPINC1",1208,612,PUR3),("FGB",1390,610,PUR3),("ORM1",1053,832,PUR3),("APOA2",1234,834,PUR4),("ITIH3",1416,830,RED),("C9",1237,988,YEL)]
hub_c_edges = chain("VWF-FGA VWF-FGG VWF-FGB VWF-SERPINC1") + pairs("FGA FGG MBL2 SERPINC1 FGB ORM1 APOA2 ITIH3 C9".split())
hub_d = [("VWF",1169,354,PIN),("SERPINC1",966,549,PUR3),("FGG",1176,546,PUR1),("FGA",1386,561,PUR2),("ITIH3",886,754,YEL),("F12",1091,753,PUR4),("FGB",1283,753,PUR2),("MBL2",1476,755,ORA),("ORM1",1086,959,RED),("C9",1298,962,PUR3)]
hub_d_edges = chain("VWF-SERPINC1 VWF-FGG VWF-FGA VWF-F12 VWF-FGB") + pairs("SERPINC1 FGG FGA ITIH3 F12 FGB MBL2 ORM1 C9".split())

# ---------------------------------------------------------------- helpers
BLUE, PURP, GREEN = "#2c4f8a", "#7c5878", "#58bf45"
children = []

def place(p, x, y, w, h):
    wrap = Column(children=[p], width=w, height=h,
                  styles={"position": "absolute", "left": f"{x}px", "top": f"{y}px"})
    children.append(wrap)
    return p

def base(x, y, w, h, xr, yr, **kw):
    opts = dict(width=w, height=h, x_range=xr, y_range=yr, tools="", toolbar_location=None,
                output_backend="svg", min_border=0, outline_line_color=None,
                background_fill_color=None, border_fill_color=None,
                x_axis_location=None, y_axis_location=None)
    opts.update(kw)
    p = figure(**opts)
    p.xgrid.visible = False
    p.ygrid.visible = False
    return place(p, x, y, w, h)

bg = base(0, 0, 1772, 2550, Range1d(0, 1772), Range1d(2550, 0))

def txt(x, y, s, size, bold=False, italic=False, align="left", base_="middle", angle=0, color="#1a1311"):
    style = "bold" if bold else ("italic" if italic else "normal")
    bg.text(x=[x], y=[y], text=[s], text_font=value(FONT), text_font_size=value(f"{size}px"),
            text_font_style=value(style), text_align=value(align), text_baseline=value(base_),
            angle=angle, text_color=color)

def box(x0, x1, y0, y1, fill, line="#333333", lw=0.8):
    bg.quad(left=[x0], right=[x1], top=[y0], bottom=[y1], fill_color=fill, line_color=line, line_width=lw)

def xlabel(cx, y):
    s = 14.0
    parts = [("−Log", s, False, 0, 2.25 * s), ("10", 10, False, 4, 11.5), ("(", s, False, 0, 0.333 * s),
             ("P.adj", s, True, 0, 1.945 * s), (")", s, False, 0, 0.333 * s)]
    total = sum(q[4] for q in parts) + 4
    x = cx - total / 2
    for i, (t, sz, it, dy, w) in enumerate(parts):
        if i == 2:
            x += 4
        txt(x, y + dy, t, sz, italic=it)
        x += w

def bars(x, y, fw, fh, L, terms, vals, color, xmax, ticks=None, fmt=None):
    bottom = 30 if ticks else 1
    n = len(terms)
    p = base(x - L, y, L + fw + 1, fh + bottom, Range1d(0, xmax), Range1d(n + 0.6, 0.4),
             min_border_left=L, min_border_right=1, min_border_bottom=bottom,
             outline_line_color="#111111", outline_line_width=1.6)
    idx = list(range(1, n + 1))
    p.hbar(y=idx, left=0, right=vals, height=0.8, fill_color=color, line_color="#151515", line_width=1.3)
    ya = LinearAxis(ticker=FixedTicker(ticks=idx), major_label_overrides={i: t for i, t in zip(idx, terms)},
                    major_tick_out=3, major_tick_in=0, minor_tick_line_color=None, axis_line_color=None,
                    major_label_text_font=FONT, major_label_text_font_size="11.2px",
                    major_label_text_color="#1a1a1a", major_label_standoff=6)
    p.add_layout(ya, "left")
    if ticks:
        xa = LinearAxis(ticker=FixedTicker(ticks=ticks), major_tick_out=3, major_tick_in=0,
                        minor_tick_line_color=None, axis_line_color="#111111",
                        major_label_text_font=FONT, major_label_text_font_size="11.5px",
                        major_label_text_color="#1a1a1a", major_label_standoff=7)
        if fmt:
            xa.formatter = NumeralTickFormatter(format=fmt)
        p.add_layout(xa, "below")
    return p

def strip(x0, x1, y0, y1, label):
    box(x0, x1, y0, y1, "#d9d9d9")
    txt((x0 + x1) / 2, (y0 + y1) / 2, label, 11.5, align="center", angle=-math.pi / 2, color="#333333")

def onto_legend(x, y_title, ys, labels, colors, label_x):
    txt(x, y_title, "Ontology", 12.5)
    for (a, b), lab, c in zip(ys, labels, colors):
        box(x + 1, x + 13, a, b, c, line="#333333", lw=1)
        txt(label_x, (a + b) / 2, lab, 12.5)

def enrich(fl, strip_l, facets, xmax_l, ticks_l, fmt_l, kegg_fl, kegg_terms, kegg_vals, xmax_k, ticks_k, fmt_k,
           kegg_r, strip_k, ys, leg_x, leg_title_y, leg_ys, kleg_x, kleg_title_y, kleg_y, xl_l, xl_k, xl_y, top_l):
    fw = strip_l - fl
    names = ["BP", "CC", "MF"]
    cols = [BLUE, PURP, GREEN]
    for k, ((y0, y1), (terms, vals)) in enumerate(zip(ys, facets)):
        strip(strip_l, strip_l + 22, y0, y1, names[k])
        bars(fl, y0, fw, y1 - y0, fl - 1, terms, vals, cols[k], xmax_l,
             ticks=ticks_l if k == 2 else None, fmt=fmt_l)
    top, bot = ys[0][0], ys[2][1]
    strip(kegg_r, strip_k, top, bot, "KEGG")
    bars(kegg_fl, top, kegg_r - kegg_fl, bot - top, 235, kegg_terms, kegg_vals, BLUE, xmax_k, ticks=ticks_k, fmt=fmt_k)
    onto_legend(leg_x, leg_title_y, leg_ys, names, cols, leg_x + 19)
    onto_legend(kleg_x, kleg_title_y, [kleg_y], ["KEGG"], [BLUE], kleg_x + 19)
    xlabel(xl_l, xl_y)
    xlabel(xl_k, xl_y)

STOPS_V = [-4, -2, -1, 0, 1, 2, 3, 4]
STOPS_C = np.array([[0x2c,0x4d,0x8e],[0x8f,0x9f,0xc8],[0xc8,0xcd,0xe2],[255,255,255],[0xd5,0xc8,0xd6],[0xa8,0x8f,0xae],[0x7a,0x54,0x79],[0x7a,0x54,0x79]], dtype=float)

def heat_color(v):
    if v != v:
        return "#bcbcbc"
    rgb = [int(round(np.interp(v, STOPS_V, STOPS_C[:, c]))) for c in range(3)]
    return "#%02x%02x%02x" % tuple(rgb)

def heatmap(x, y, w, h, rows, vals):
    p = base(x, y, w + 60, h + 2, Range1d(0, 40), Range1d(len(rows), 0), min_border_right=60, min_border_bottom=1, min_border_top=1,
             outline_line_color="#111111", outline_line_width=2, min_border_left=0)
    xs, ys, cs = [], [], []
    for r, row in enumerate(vals):
        for c, v in enumerate(row):
            xs.append(c + 0.5); ys.append(r + 0.5); cs.append(heat_color(v))
    p.rect(x=xs, y=ys, width=1, height=1, fill_color=cs, line_color="white", line_width=1.3)
    tk = [i + 0.5 for i in range(len(rows))]
    ax = LinearAxis(ticker=FixedTicker(ticks=tk), major_label_overrides={t: n for t, n in zip(tk, rows)},
                    major_tick_line_color=None, minor_tick_line_color=None, axis_line_color=None,
                    major_label_text_font=FONT, major_label_text_font_size="15px",
                    major_label_text_color="#111111", major_label_standoff=7)
    p.add_layout(ax, "right")
    return p

def annot(x, y, w, h, groups):
    p = base(x, y, w, h, Range1d(0, 40), Range1d(0, 1))
    cols = ["#6bbdc6" if g == "Healthy Control" else "#866b88" for g in groups]
    p.rect(x=[i + 0.5 for i in range(40)], y=0.5, width=1.02, height=1, fill_color=cols, line_color=None)

def dendro(x, y, w, h, tree, nrows):
    p = base(x, y, w, h, Range1d(w * 1.307, 0), Range1d(nrows, 0))
    xs, ys = [], []
    def walk(t):
        if not isinstance(t, tuple):
            return 0, t + 0.5
        hh, a, b = t
        ha, ya = walk(a)
        hb, yb = walk(b)
        xs.append([ha, hh, hh, hb]); ys.append([ya, ya, yb, yb])
        return hh, (ya + yb) / 2
    walk(tree)
    p.multi_line(xs, ys, line_color="#111111", line_width=1.6)

def colorbar(x, y, w, h, ymin, ymax):
    p = base(x, y, w + 32, h, Range1d(0, 1), Range1d(ymin, ymax), min_border_right=32)
    grad = [round(-4.4 + 0.1 * i, 2) for i in range(89)]
    p.rect(x=0.5, y=grad, width=1, height=0.11, fill_color=[heat_color(v) for v in grad], line_color=None)
    tv = [-4, -2, 0, 2, 4]
    p.segment(x0=[0] * 5, x1=[0.28] * 5, y0=tv, y1=tv, line_color="white", line_width=1.5)
    p.segment(x0=[0.72] * 5, x1=[1] * 5, y0=tv, y1=tv, line_color="white", line_width=1.5)
    ax = LinearAxis(ticker=FixedTicker(ticks=tv), major_tick_line_color=None, minor_tick_line_color=None, axis_line_color=None,
                    major_label_text_font=FONT, major_label_text_font_size="13px", major_label_standoff=5,
                    major_label_overrides={-4: "−4", -2: "−2"}, major_label_text_color="#222222")
    p.add_layout(ax, "right")

def group_legend(x, y_title, ys, labels, colors):
    txt(x, y_title, "group", 15.5)
    for (a, b), l, c in zip(ys, labels, colors):
        box(x + 1, x + 23, a, b, c, line=None, lw=0)
        txt(x + 31, (a + b) / 2, l, 13)

def qpcr(x0, y0, fw, fh, means, sems, offs, pts, ymax, ticks):
    L, T, B = 95, 20, 14
    p = base(x0 - L, y0 - T, L + fw + 2, T + fh + B, Range1d(-0.65, 3.69), Range1d(0, ymax),
             min_border_left=L, min_border_top=T, min_border_bottom=B, min_border_right=2)
    cats = list(range(4))
    p.vbar(x=cats, bottom=0, top=means, width=0.63, fill_color=q_colors, line_color="#111111", line_width=2.4)
    hi = [m + s for m, s in zip(means, sems)]
    p.segment(x0=cats, x1=cats, y0=means, y1=hi, line_color="#111111", line_width=1.4)
    p.segment(x0=[c - 0.16 for c in cats], x1=[c + 0.16 for c in cats], y0=hi, y1=hi, line_color="#111111", line_width=1.4)
    for c in cats:
        p.scatter(x=[c + o for o in offs[c]], y=pts[c], size=8, marker="circle", fill_color="white", line_color="#111111", line_width=1.1)
    ya = LinearAxis(ticker=FixedTicker(ticks=ticks), major_tick_out=10, major_tick_in=0, minor_tick_line_color=None,
                    axis_line_color="#111111", axis_line_width=2.4, major_tick_line_color="#111111", major_tick_line_width=2.4,
                    major_label_text_font=FONT, major_label_text_font_size="30px", major_label_text_font_style="bold",
                    major_label_text_color="#111111", major_label_standoff=2,
                    axis_label="Relative mRNA expression", axis_label_text_font=FONT, axis_label_text_font_style="bold",
                    axis_label_text_font_size="17px", axis_label_standoff=29, axis_label_text_color="#111111")
    p.add_layout(ya, "left")
    xa = LinearAxis(ticker=FixedTicker(ticks=cats), major_tick_out=9, major_tick_in=0, minor_tick_line_color=None,
                    axis_line_color="#111111", axis_line_width=2.4, major_tick_line_color="#111111", major_tick_line_width=2,
                    major_label_text_font_size="0px", major_label_text_color=None)
    p.add_layout(xa, "below")

def string_net(x, y, w, h, xmax, ymax, nodes, strong, light, size, fs, lx, ly):
    p = base(x, y, w, h, Range1d(0, xmax), Range1d(ymax, 0))
    sx, sy = xmax / w, ymax / h
    pos = {n[0]: (n[1], n[2]) for n in nodes}
    layers = {"p": ([], [], "#b98fd0", 1.5, 0.9), "g": ([], [], "#c6dc6a", 1.1, 0.95), "d": ([], [], "#3a3a3a", 0.9, 0.8),
              "t": ([], [], "#8fd3dc", 0.7, 0.7), "q": ([], [], "#c3a4d6", 0.7, 0.7), "k": ([], [], "#555555", 0.5, 0.7)}
    def add(a, b, key, off):
        xa, ya = pos[a]; xb, yb = pos[b]
        dx, dy = (xb - xa) / sx, (yb - ya) / sy
        ln = math.hypot(dx, dy) or 1
        nx, ny = -dy / ln * off * sx, dx / ln * off * sy
        layers[key][0].append([xa + nx, xb + nx]); layers[key][1].append([ya + ny, yb + ny])
    for a, b in strong:
        add(a, b, "p", -1.1); add(a, b, "g", 1.1); add(a, b, "d", 0.0)
    for a, b in light:
        add(a, b, "g", 0.0); add(a, b, "q", 0.8); add(a, b, "t", -0.8); add(a, b, "k", 0.3)
    for k in "tqgpkd":
        xs, ys, c, lw, al = layers[k]
        p.multi_line(xs, ys, line_color=c, line_width=lw, line_alpha=al)
    xs = [n[1] for n in nodes]; ys = [n[2] for n in nodes]; cs = [n[3] for n in nodes]
    p.scatter(x=xs, y=ys, size=size, marker="circle", fill_color=cs, line_color="#55655e", line_width=0.9)
    p.scatter(x=xs, y=[v - 4 * sy for v in ys], size=size * 0.55, marker="circle", fill_color="white", fill_alpha=0.28, line_color=None)
    p.text(x=[v + lx for v in xs], y=[v + ly for v in ys], text=[n[0] for n in nodes], text_font=value(FONT),
           text_font_size=value(f"{fs}px"), text_color="#333333", text_baseline=value("middle"))

def hub_net(x, y, w, h, ymax, nodes, edges, hw, hh, fs):
    p = base(x, y, w, h, Range1d(0, 1568), Range1d(ymax, 0))
    pos = {n[0]: (n[1], n[2]) for n in nodes}
    p.multi_line([[pos[a][0], pos[b][0]] for a, b in edges], [[pos[a][1], pos[b][1]] for a, b in edges], line_color="#111111", line_width=1.1)
    p.patches([[n[1] - hw, n[1], n[1] + hw, n[1]] for n in nodes], [[n[2], n[2] - hh, n[2], n[2] + hh] for n in nodes],
              fill_color=[n[3] for n in nodes], line_color=None)
    p.text(x=[n[1] for n in nodes], y=[n[2] for n in nodes], text=[n[0] for n in nodes], text_font=value(FONT),
           text_font_size=value(f"{fs}px"), text_color="#111111", text_align=value("center"), text_baseline=value("middle"))

# ---------------------------------------------------------------- page texts
txt(899.5, 17, "Hub Genes Analysis of Differentially Expressed Proteins in Different COVID-19 Infected Individuals", 32, bold=True, align="center")
txt(905.5, 854, "Function Enrichment of Hub Proteins  in Different COVID-19 Infected Individuals", 32.3, bold=True, align="center")
txt(614, 1923, "Heatmaps Reveal Patterns and Correlations", 32.3, bold=True, align="center")
txt(1473, 1923, "RT-qPCR Verification", 32.3, bold=True, align="center")
for cx, cy, s in [(448, 70.5, "Omi-Asymptomatic vs. Healthy Control"), (1377, 70.5, "Omi-Symptomatic vs. Healthy Control"),
                  (445, 456, "Omi-Asymptomatic vs. Ancestral"), (1395, 462, "Omi-Symptomatic vs. Ancestral"),
                  (449.5, 904.5, "Omi-Asymptomatic vs. Healthy Control"), (1377.5, 904.5, "Omi-Symptomatic vs. Healthy Control"),
                  (445.5, 1401.5, "Omi-Asymptomatic vs. Ancestral"), (1397, 1401.5, "Omi-Symptomatic vs. Ancestral")]:
    txt(cx, cy, s, 29, align="center")
for x, y, s in [(21, 136, "a"), (922, 136, "b"), (21, 485, "c"), (923, 488, "d"), (21, 906, "e"), (926, 906, "f"),
                (24, 1399, "g"), (927, 1397, "h"), (24, 1961, "i"), (24, 2272, "j"), (1225, 1961, "k"), (1228, 2272, "l")]:
    txt(x, y, s, 48, bold=True, base_="alphabetic")
txt(1484, 1964, "VCL", 28, bold=True, align="center", color="#111111")
txt(1483, 2271, "ICAM1", 28, bold=True, align="center", color="#111111")
txt(1386, 2017, "****", 30, base_="middle", color="#111111")
txt(1389, 2325, "****", 30, base_="middle", color="#111111")

# ---------------------------------------------------------------- networks
string_net(0, 0, 890, 420, 1568, 1260, net_a_nodes, net_a_strong, net_a_light, 20, 7.5, 16, -33)
hub_net(0, 0, 890, 420, 1260, hub_a, hub_a_edges, 70, 55, 12.5)
string_net(890, 90, 880, 340, 1568, 1020, net_b_nodes, net_b_strong, net_b_light, 19, 6.5, 13, -30)
hub_net(890, 90, 880, 340, 1020, hub_b, hub_b_edges, 100, 79, 15)
string_net(0, 430, 890, 370, 1568, 1110, net_c_nodes, net_c_strong, net_c_light, 16, 5, 12, -22)
hub_net(0, 430, 890, 370, 1110, hub_c, hub_c_edges, 85, 69, 13)
string_net(890, 430, 880, 370, 1568, 1110, net_d_nodes, net_d_strong, net_d_light, 15, 5, 12, -22)
hub_net(890, 430, 880, 370, 1110, hub_d, hub_d_edges, 90, 73, 13.7)

# ---------------------------------------------------------------- enrichment panels
ys_top = [(937, 1063), (1069, 1194), (1200, 1326)]
ys_bot = [(1430, 1556), (1562, 1687), (1694, 1819)]
enrich(202, 351, [(e_bp_terms, e_bp_vals), (e_cc_terms, e_cc_vals), (e_mf_terms, e_mf_vals)], 7.6, [0, 2, 4, 6], None,
       642, e_kegg_terms, e_kegg_vals, 3.08, [0, 1, 2, 3], None, 784, 805, ys_top,
       379, 1110, [(1118, 1130), (1133, 1144), (1146, 1158)], 811, 1123, (1132, 1144), 277, 713, 1358, 937)
enrich(1104, 1254, [(f_bp_terms, f_bp_vals), (f_cc_terms, f_cc_vals), (f_mf_terms, f_mf_vals)], 10.47, [0, 2.5, 5, 7.5, 10], "0.0",
       1555, f_kegg_terms, f_kegg_vals, 4.4, [0, 1, 2, 3, 4], None, 1686, 1707, ys_top,
       1281, 1109, [(1118, 1130), (1132, 1144), (1146, 1158)], 1713, 1123, (1132, 1144), 1179, 1620, 1358, 937)
enrich(221, 351, [(g_bp_terms, g_bp_vals), (g_cc_terms, g_cc_vals), (g_mf_terms, g_mf_vals)], 12.5, [0, 2.5, 5, 7.5, 10, 12.5], "0.0",
       655, g_kegg_terms, g_kegg_vals, 12.5, [0, 2.5, 5, 7.5, 10, 12.5], "0.0", 784, 805, ys_bot,
       379, 1603, [(1612, 1624), (1626, 1637), (1640, 1652)], 811, 1617, (1625, 1637), 287, 720, 1851, 1430)
enrich(1123, 1254, [(h_bp_terms, h_bp_vals), (h_cc_terms, h_cc_vals), (h_mf_terms, h_mf_vals)], 11.6, [0, 3, 6, 9], None,
       1558, h_kegg_terms, h_kegg_vals, 15.4, [0, 4, 8, 12], None, 1686, 1707, ys_bot,
       1281, 1603, [(1612, 1624), (1626, 1637), (1640, 1652)], 1713, 1617, (1625, 1637), 1188, 1622, 1851, 1430)

# ---------------------------------------------------------------- heatmaps
annot(143, 1957, 814, 18, heat_groups_i)
heatmap(143, 1981, 814, 240, i_rows, i_values)
dendro(83, 1982, 58, 240, tree_i, 10)
txt(964, 1967, "group", 15.5)
group_legend(1039, 1984, [(2004, 2026), (2028, 2050)], ["Healthy Control", "Omi-Asymptomati"], ["#6bbdc6", "#866b88"])
colorbar(1038, 2080, 24, 149, -4.35, 4.4)

annot(143, 2277, 814, 18, heat_groups_j)
heatmap(143, 2302, 814, 240, j_rows, j_values)
dendro(83, 2303, 58, 240, tree_j, 10)
txt(964, 2287, "group", 15.5)
group_legend(1039, 2305, [(2324, 2346), (2348, 2370)], ["Healthy Control", "Omi-Symptomatic"], ["#6bbdc6", "#866b88"])
colorbar(1038, 2400, 24, 149, -4.35, 4.4)

# ---------------------------------------------------------------- qPCR
qpcr(1378, 2008, 214, 214, vcl_means, vcl_sem, vcl_off, vcl_pts, 5, [0, 1, 2, 3, 4, 5])
qpcr(1378, 2316, 214, 214, icam_means, icam_sem, icam_off, icam_pts, 8, [0, 2, 4, 6, 8])
for ys, lx, sx0 in [([(2092, 2110), (2131, 2149), (2165, 2184), (2203, 2221)], 1643, 1620),
                    ([(2402, 2421), (2441, 2459), (2476, 2494), (2513, 2531)], 1647, 1624)]:
    for (a, b), g, c in zip(ys, q_groups, q_colors):
        box(sx0, sx0 + 19, a, b, c, line="#444444", lw=1)
        txt(lx, (a + b) / 2, g, 13.5, color="#333333")

root = column(*children, width=1772, height=2550, styles={"position": "absolute", "left": "0px", "top": "0px"})
open("out.html", "w").write(file_html(root, INLINE))
